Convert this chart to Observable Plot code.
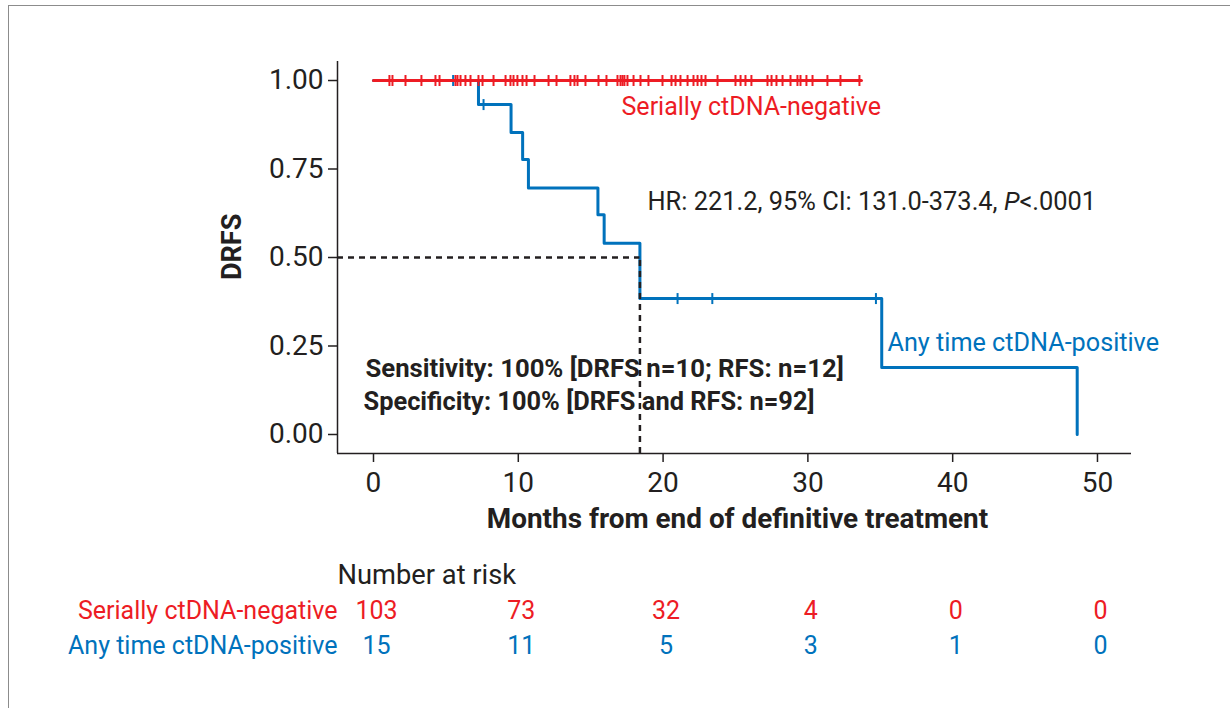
<!DOCTYPE html>
<html><head><meta charset="utf-8">
<script src="https://cdn.jsdelivr.net/npm/d3@7"></script>
<script src="https://cdn.jsdelivr.net/npm/@observablehq/plot@0.6"></script>
<style>
body{margin:0;background:#fff;font-family:Roboto,sans-serif;}
#wrap{position:relative;width:1230px;height:708px;overflow:hidden;background:#fff;}
#border{position:absolute;left:8px;top:5px;width:1400px;height:900px;border-top:1.5px solid #8c8c8c;border-left:1.5px solid #8c8c8c;}
#chart,#risk{position:relative;}
#chart svg,#risk svg{display:block;}
</style></head><body>
<div id="wrap"><div id="border"></div><div id="chart"></div><div id="risk"></div></div>
<script>
// ---------- data ----------
const RED = "#ed1c24", BLUE = "#0072bc", INK = "#231f20";
const negName = "Serially ctDNA-negative";
const posName = "Any time ctDNA-positive";

// Any time ctDNA-positive: KM step points (time in months, survival)
const posTimes = [0, 7.25, 9.5, 10.3, 10.7, 15.5, 15.93, 18.4, 35.1, 48.6];
const posSurv  = [1, 0.932, 0.853, 0.777, 0.696, 0.621, 0.540, 0.384, 0.189, 0];
const posCensorTimes = [5.5, 7.6, 21.0, 23.4, 34.7];
const posCensorSurv  = [1, 0.932, 0.384, 0.384, 0.384];

// Serially ctDNA-negative: no events, censored times
const negTimes = [0, 33.7];
const negSurv  = [1, 1];
const negCensorTimes = [1.10, 1.31, 2.21, 3.31, 4.28, 4.56, 5.66, 5.80, 6.01, 6.35, 6.70, 7.25, 7.53, 8.29,
  9.12, 9.46, 9.67, 9.94, 10.29, 10.57, 11.12, 12.09, 12.64, 13.60, 13.88, 14.09, 14.64, 15.54, 16.09,
  16.85, 17.06, 17.20, 17.33, 17.54, 17.96, 18.44, 18.99, 19.96, 20.58, 20.86, 21.20, 21.69, 22.10,
  22.38, 22.65, 22.93, 23.76, 25.0, 25.35, 25.69, 26.10, 27.21, 27.49, 27.83, 28.25, 28.80, 29.28,
  29.49, 29.90, 30.32, 31.35, 32.25, 33.56];

const medianTime = 18.4;
const medianSurv = 0.5;

const xTicks = [0, 10, 20, 30, 40, 50];
const yTicks = [0, 0.25, 0.5, 0.75, 1];

const riskTimes = [0, 10, 20, 30, 40, 50];
const riskNeg = [103, 73, 32, 4, 0, 0];
const riskPos = [15, 11, 5, 3, 1, 0];
const riskHeader = "Number at risk";

const hrText = "HR: 221.2, 95% CI: 131.0-373.4, P<.0001";
const sensText = "Sensitivity: 100% [DRFS n=10; RFS: n=12]";
const specText = "Specificity: 100% [DRFS and RFS: n=92]";
const xLabel = "Months from end of definitive treatment";
const yLabel = "DRFS";

// ---------- build ----------
const posLine = posTimes.map((t, i) => ({t, s: posSurv[i]}));
const negLine = negTimes.map((t, i) => ({t, s: negSurv[i]}));
const posCens = posCensorTimes.map((t, i) => ({t, s: posCensorSurv[i]}));
const negCens = negCensorTimes.map(t => ({t, s: 1}));

const xDomain = [-2.486, 52.35];
const yDomain = [-0.0537, 1.0537];
const W = 1230;
const ML = 337, MR = 99;

const vbar = {draw(ctx, size) { const h = Math.sqrt(size / Math.PI); ctx.moveTo(0, -h); ctx.lineTo(0, h); }};

const chart = Plot.plot({
  width: W, height: 550,
  marginLeft: ML, marginRight: MR, marginTop: 61, marginBottom: 97,
  style: {fontFamily: "Roboto, sans-serif", background: "transparent", color: INK, overflow: "visible"},
  x: {domain: xDomain},
  y: {domain: yDomain},
  marks: [
    Plot.axisX({ticks: xTicks, tickSize: 9, tickPadding: 10, fontSize: 28, label: null, stroke: INK, strokeWidth: 1.5, fill: INK}),
    Plot.axisY({ticks: yTicks, tickFormat: d => d.toFixed(2), tickSize: 9, tickPadding: 5, fontSize: 28, label: null, stroke: INK, strokeWidth: 1.5, fill: INK}),
    Plot.ruleY([yDomain[0]], {stroke: INK, strokeWidth: 1.5}),
    Plot.ruleX([xDomain[0]], {stroke: INK, strokeWidth: 1.5}),
    Plot.line(posLine, {x: "t", y: "s", curve: "step-after", stroke: BLUE, strokeWidth: 3}),
    Plot.dot(posCens.slice(0, 1), {x: "t", y: "s", symbol: vbar, r: 5.5, stroke: BLUE, strokeWidth: 2, fill: "none"}),
    Plot.line(negLine, {x: "t", y: "s", stroke: RED, strokeWidth: 3}),
    Plot.dot(negCens, {x: "t", y: "s", symbol: vbar, r: 5.5, stroke: RED, strokeWidth: 2, fill: "none"}),
    Plot.dot(posCens.slice(1), {x: "t", y: "s", symbol: vbar, r: 5.5, stroke: BLUE, strokeWidth: 2, fill: "none"}),
    Plot.ruleY([medianSurv], {x1: xDomain[0], x2: medianTime, stroke: INK, strokeWidth: 2.5, strokeDasharray: "6,5"}),
    Plot.ruleX([medianTime], {y1: yDomain[0], y2: medianSurv, stroke: INK, strokeWidth: 2.5, strokeDasharray: "6,5"}),
    Plot.text([negName], {x: 17.13, y: 0.925, text: d => d, textAnchor: "start", fill: RED, fontSize: 25}),
    Plot.text([posName], {x: 35.5, y: 0.260, text: d => d, textAnchor: "start", fill: BLUE, fontSize: 25.2}),
    Plot.text([hrText], {x: 18.92, y: 0.658, text: d => d, textAnchor: "start", fill: INK, fontSize: 25.4}),
    Plot.text([sensText], {x: -0.55, y: 0.187, text: d => d, textAnchor: "start", fill: INK, fontSize: 25.7, fontWeight: "bold"}),
    Plot.text([specText], {x: -0.69, y: 0.091, text: d => d, textAnchor: "start", fill: INK, fontSize: 25.4, fontWeight: "bold"}),
    Plot.text([xLabel], {x: 25.14, y: yDomain[0], dy: 66, text: d => d, fill: INK, fontSize: 27.9, fontWeight: "bold"}),
    Plot.text([yLabel], {x: xDomain[0], y: 0.53, dx: -105, rotate: -90, text: d => d, fill: INK, fontSize: 27, fontWeight: "bold"})
  ]
});

// italic P in HR text
d3.select(chart).selectAll("text").filter(function() { return this.textContent === hrText; }).each(function() {
  const el = d3.select(this);
  const parts = hrText.split("P<");
  el.text(null);
  el.append("tspan").text(parts[0]);
  el.append("tspan").attr("font-style", "italic").text("P");
  el.append("tspan").text("<" + parts[1]);
});
document.getElementById("chart").appendChild(chart);

// ---------- risk table ----------
const riskRows = [];
riskTimes.forEach((t, i) => {
  riskRows.push({t, g: negName, n: riskNeg[i]});
  riskRows.push({t, g: posName, n: riskPos[i]});
});
const rowNames = [riskHeader, negName, posName];
const colorOf = g => g === negName ? RED : BLUE;

const risk = Plot.plot({
  width: W, height: 158,
  marginLeft: ML, marginRight: MR, marginTop: 0, marginBottom: 0,
  style: {fontFamily: "Roboto, sans-serif", background: "transparent", overflow: "visible"},
  x: {domain: xDomain, axis: null},
  y: {type: "point", domain: rowNames, range: [25, 95], padding: 0, axis: null},
  marks: [
    Plot.text([riskHeader], {x: xDomain[0], y: d => d, text: d => d, textAnchor: "start", fill: INK, fontSize: 27.3}),
    Plot.text([negName, posName], {x: xDomain[0], y: d => d, text: d => d, textAnchor: "end", fill: d => colorOf(d), fontSize: 25}),
    Plot.text(riskRows, {x: "t", y: "g", text: d => String(d.n), dx: 3, fill: d => colorOf(d.g), fontSize: 25})
  ]
});
document.getElementById("risk").appendChild(risk);
</script></body></html>
